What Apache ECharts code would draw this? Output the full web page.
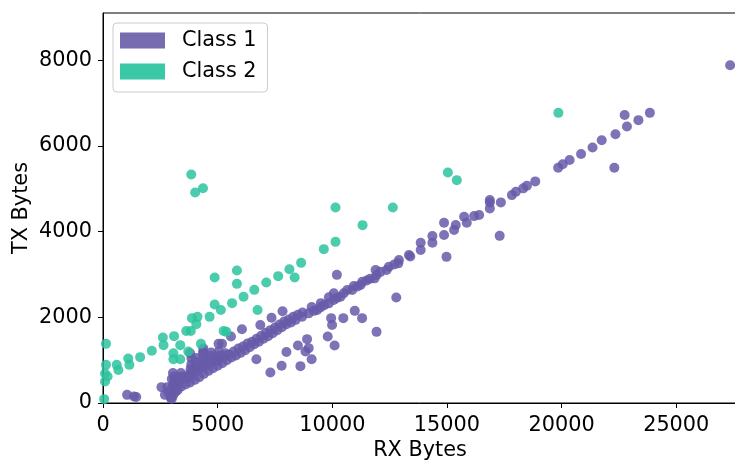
<!DOCTYPE html>
<html>
<head>
<meta charset="utf-8">
<script src="https://cdn.jsdelivr.net/npm/echarts@6/dist/echarts.min.js"></script>
<style>
  html, body { margin: 0; padding: 0; background: #fff; }
  #chart { width: 735px; height: 460px; }
</style>
</head>
<body>
<div id="chart"></div>
<script>
// Tick positions for both axes
const xTicks = [0, 5000, 10000, 15000, 20000, 25000];
const yTicks = [0, 2000, 4000, 6000, 8000];

// Class 1 traffic samples: [RX bytes, TX bytes]
const class1 = [
  [1050, 190], [1350, 150], [1450, 140], [2550, 370], [2700, 190], [2800, 370],
  [2850, 250], [2950, 120], [3000, 100], [3050, 170], [2950, 300], [3050, 420],
  [3000, 560], [3050, 700], [3100, 620], [3150, 250], [3200, 350], [3250, 300], [3100, 480],
  [3400, 380], [3600, 430], [3800, 480], [4000, 540], [4200, 600], [4400, 680],
  [4600, 750], [4800, 810], [5000, 870], [5200, 930], [5400, 1000], [5600, 1060],
  [5800, 1110], [6000, 1170], [6200, 1230], [6400, 1300], [6600, 1370], [6800, 1430],
  [7000, 1500], [7200, 1560], [7400, 1630], [7600, 1700], [7800, 1770], [8000, 1840],
  [8200, 1880], [8400, 1940], [8684, 2013], [8973, 2092], [9200, 2150], [9340, 2169],
  [9484, 2232], [9650, 2280], [9848, 2325], [9848, 2465], [10066, 2402], [10066, 2558],
  [10200, 2450], [10358, 2479], [10500, 2560], [10650, 2636], [10868, 2636], [10940, 2729],
  [11100, 2720], [11233, 2752], [11307, 2830], [11500, 2860], [11650, 2900], [11844, 2908],
  [11932, 2985], [11888, 3102], [12100, 3060], [12369, 3102], [12470, 3179], [12700, 3230],
  [12880, 3258], [12906, 3335], [13344, 3452], [13400, 3420], [13855, 3568], [13855, 3739],
  [14366, 3739], [14366, 3895], [14874, 3918], [14874, 4206], [15311, 4035], [15385, 4152],
  [15749, 4346], [15865, 4206], [16186, 4361], [16404, 4385], [16870, 4541], [16870, 4681],
  [16870, 4735], [17351, 4681], [17832, 4851], [18007, 4929], [18327, 5008], [18488, 5070],
  [18851, 5171], [19850, 5490], [20050, 5570], [20350, 5670], [20850, 5810], [21350, 5960],
  [21750, 6130], [22350, 6270], [22850, 6450], [23350, 6600], [23850, 6770], [22750, 6720],
  [27350, 7880],
  [3100, 450], [3300, 500], [3500, 560], [3700, 620], [3900, 690], [4100, 750],
  [4300, 810], [4500, 880], [4700, 940], [4900, 1000], [5100, 1060], [5300, 1100],
  [5500, 1130], [5700, 1200], [5900, 1270], [6100, 1320], [6300, 1390], [6500, 1430],
  [6700, 1500], [6900, 1570], [7100, 1640], [7300, 1700], [7500, 1760], [7700, 1830],
  [7900, 1900], [8100, 1950], [8300, 2010], [8500, 2060], [8700, 2110], [9100, 2240], [9500, 2330],
  [3350, 610], [3400, 700], [3500, 620], [3800, 600], [3800, 700], [3820, 800],
  [3850, 900], [3860, 1040], [3800, 1160], [4050, 750], [4050, 850], [4080, 950],
  [4050, 1050], [4350, 850], [4370, 950], [4380, 1050], [4360, 1150], [4370, 1200],
  [4380, 1270], [4700, 1000], [4700, 1100], [4720, 1180], [5000, 1000], [5050, 1100],
  [5040, 1200], [5040, 1380], [5330, 1160], [5190, 1380], [5580, 1550], [6060, 1720],
  [6860, 1820], [7350, 1990], [7830, 2140],
  [6690, 1020], [7300, 710], [7790, 870], [8000, 1190], [8500, 1340], [8610, 860],
  [8830, 1200], [8900, 1490], [8970, 1280], [9100, 1020], [9800, 1550], [9950, 1980],
  [9990, 1820], [10100, 1340], [10480, 1980], [10980, 2150], [11300, 1980], [11930, 1660],
  [12790, 2460], [14980, 3410], [17300, 3900], [22300, 5490], [10200, 2990]
];

// Class 2 traffic samples: [RX bytes, TX bytes]
const class2 = [
  [50, 90], [130, 1380], [130, 890], [90, 690], [90, 500], [200, 620], [600, 890],
  [670, 770], [1100, 1040], [1150, 890], [1620, 1070], [2130, 1220], [2610, 1530],
  [2640, 1350], [3100, 1560], [3070, 1160], [3070, 1020], [3370, 1020], [3370, 1350],
  [3630, 1680], [3830, 1680], [3880, 1980], [4120, 2010], [4070, 1840], [4270, 1380],
  [3720, 1200], [4650, 2010], [4870, 2300], [5140, 2170], [5260, 1680], [5380, 1660],
  [5630, 2330], [5840, 3090], [5840, 2780], [6130, 2480], [4870, 2930], [6600, 2640],
  [6740, 2170], [7120, 2810], [7640, 2960], [8130, 3120], [8360, 2930], [8640, 3270],
  [9630, 3590], [10140, 3760], [10140, 4560], [11320, 4150], [12640, 4560],
  [3850, 5330], [4020, 4910], [4360, 5010], [19860, 6770], [15040, 5380], [15430, 5200]
];

const FONT = 'DejaVu Sans';
const FS = 20.8;
const plain = v => String(v);

const chart = echarts.init(document.getElementById('chart'), null, { renderer: 'canvas' });

chart.setOption({
  animation: false,
  backgroundColor: '#ffffff',
  textStyle: { fontFamily: FONT },
  grid: {
    left: 103, right: -2, top: 13, bottom: 57,
    containLabel: false, outerBoundsMode: 'none',
    show: true, borderColor: '#000', borderWidth: 1, backgroundColor: 'transparent'
  },
  legend: {
    left: 113, top: 23,
    orient: 'vertical',
    itemWidth: 45, itemHeight: 16, itemGap: 10,
    padding: [7, 11, 10, 7],
    borderColor: '#cccccc', borderWidth: 1, borderRadius: 4,
    backgroundColor: 'rgba(255,255,255,0.8)',
    textStyle: { fontFamily: FONT, fontSize: FS, color: '#000', padding: [0, 0, 0, 12], lineHeight: 21 },
    data: [
      { name: 'Class 1', icon: 'rect', itemStyle: { color: '#776cb0', opacity: 1, borderWidth: 0 } },
      { name: 'Class 2', icon: 'rect', itemStyle: { color: '#3ac8a6', opacity: 1, borderWidth: 0 } }
    ]
  },
  xAxis: {
    type: 'value', min: 0, max: 27650, interval: 5000,
    name: 'RX Bytes', nameLocation: 'middle', nameGap: 37, nameMoveOverlap: false,
    nameTextStyle: { fontFamily: FONT, fontSize: FS, color: '#000' },
    axisLine: { show: true, lineStyle: { color: '#000', width: 1 } },
    axisTick: { show: true, length: 5, customValues: xTicks, lineStyle: { color: '#000' } },
    axisLabel: { customValues: xTicks, formatter: plain, margin: 12,
      fontFamily: FONT, fontSize: FS, color: '#000' },
    splitLine: { show: false }
  },
  yAxis: {
    type: 'value', min: 0, max: 9100, interval: 2000,
    name: 'TX Bytes', nameLocation: 'middle', nameGap: 71, nameMoveOverlap: false,
    nameTextStyle: { fontFamily: FONT, fontSize: FS, color: '#000' },
    axisLine: { show: true, lineStyle: { color: '#000', width: 1 } },
    axisTick: { show: true, length: 5, customValues: yTicks, lineStyle: { color: '#000' } },
    axisLabel: { customValues: yTicks, formatter: plain, margin: 11,
      fontFamily: FONT, fontSize: FS, color: '#000' },
    splitLine: { show: false }
  },
  series: [
    {
      name: 'Class 1', type: 'scatter', data: class1, symbolSize: 10,
      itemStyle: { color: '#665aa9', opacity: 0.85 }
    },
    {
      name: 'Class 2', type: 'scatter', data: class2, symbolSize: 10,
      itemStyle: { color: '#2bc39e', opacity: 0.85 }
    }
  ]
});
</script>
</body>
</html>
